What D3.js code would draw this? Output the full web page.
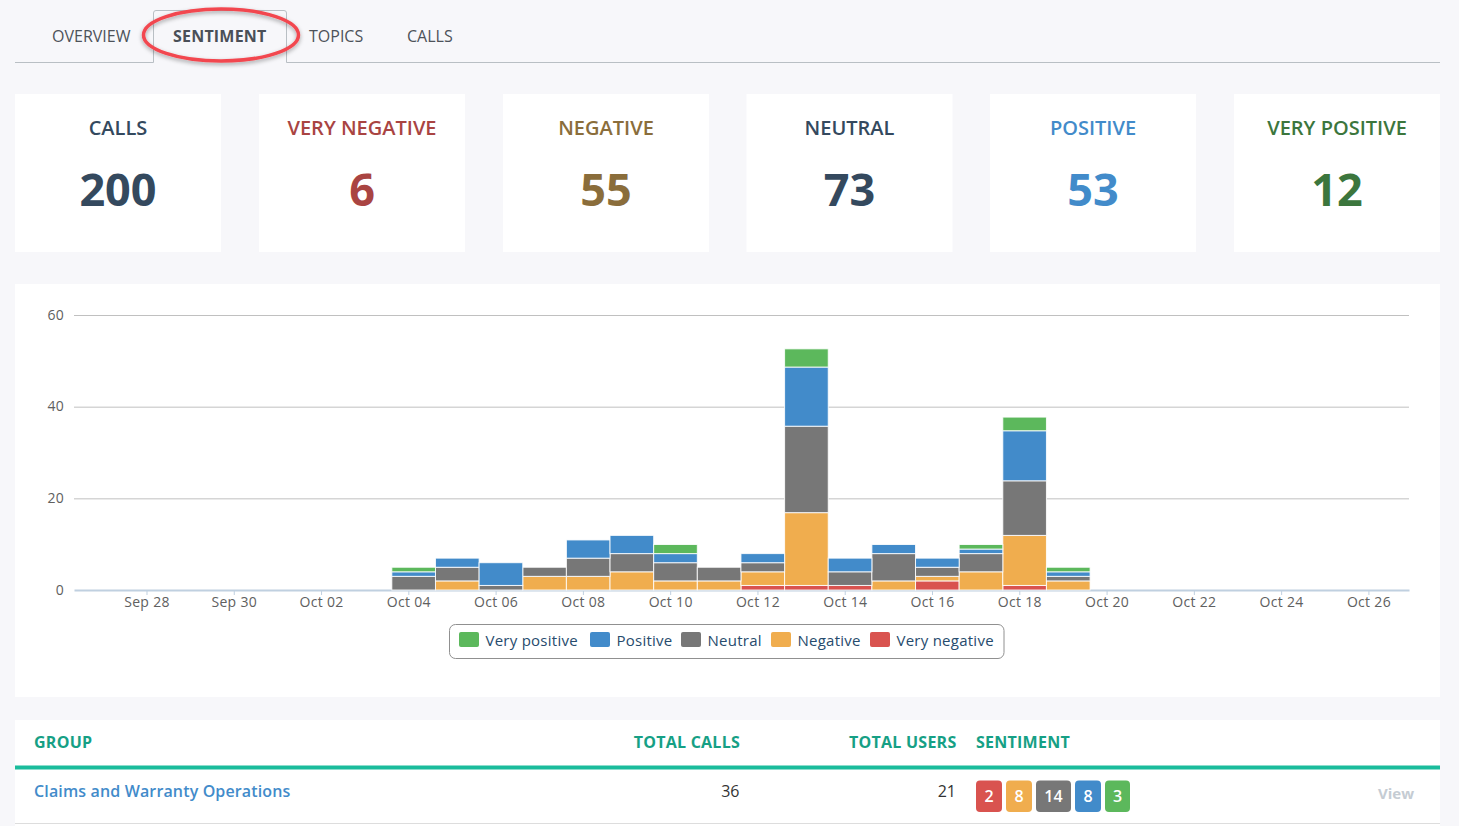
<!DOCTYPE html>
<html>
<head>
<meta charset="utf-8">
<title>Sentiment</title>
<script src="https://cdnjs.cloudflare.com/ajax/libs/d3/7.8.5/d3.min.js"></script>
<style>
  html, body { margin: 0; padding: 0; background: #f7f7fa; overflow: hidden; }
  svg { display: block; font-family: "Open Sans", sans-serif; }
</style>
</head>
<body>
<div id="page"></div>
<script>
// -----------------------------
// DATA
// -----------------------------
const TABS = ["OVERVIEW", "SENTIMENT", "TOPICS", "CALLS"];
const CARD_LABELS = ["CALLS", "VERY NEGATIVE", "NEGATIVE", "NEUTRAL", "POSITIVE", "VERY POSITIVE"];
const CARD_VALUES = [200, 6, 55, 73, 53, 12];

const DAY_LABELS = ["Oct 04","Oct 05","Oct 06","Oct 07","Oct 08","Oct 09","Oct 10","Oct 11",
                    "Oct 12","Oct 13","Oct 14","Oct 15","Oct 16","Oct 17","Oct 18","Oct 19"];
const TICK_LABELS = ["Sep 28","Sep 30","Oct 02","Oct 04","Oct 06","Oct 08","Oct 10","Oct 12",
                     "Oct 14","Oct 16","Oct 18","Oct 20","Oct 22","Oct 24","Oct 26"];
const Y_TICKS = [0, 20, 40, 60];

// stack order: bottom to top
const VERY_NEGATIVE = [0,0,0,0,0,0,0,0,1,1,1,0,2,0,1,0];
const NEGATIVE      = [0,2,0,3,3,4,2,2,3,16,0,2,1,4,11,2];
const NEUTRAL       = [3,3,1,2,4,4,4,3,2,19,3,6,2,4,12,1];
const POSITIVE      = [1,2,5,0,4,4,2,0,2,13,3,2,2,1,11,1];
const VERY_POSITIVE = [1,0,0,0,0,0,2,0,0,4,0,0,0,1,3,1];

const SERIES_NAMES = ["Very negative", "Negative", "Neutral", "Positive", "Very positive"];
const SERIES_VALUES = [VERY_NEGATIVE, NEGATIVE, NEUTRAL, POSITIVE, VERY_POSITIVE];

const TABLE_HEADERS = ["GROUP", "TOTAL CALLS", "TOTAL USERS", "SENTIMENT"];
const ROW_GROUP = "Claims and Warranty Operations";
const ROW_CALLS = 36;
const ROW_USERS = 21;
const ROW_SENTIMENT = [2, 8, 14, 8, 3];

// -----------------------------
// STYLE
// -----------------------------
const COLORS = { "Very negative": "#d9534f", "Negative": "#f0ad4e", "Neutral": "#777777",
                 "Positive": "#428bca", "Very positive": "#5cb85c" };
const CARD_COLORS = ["#34495e", "#a94442", "#8a6d3b", "#34495e", "#428bca", "#3c763d"];
const TEAL = "#1abc9c";
const TEAL_TEXT = "#16a085";

const svg = d3.select("#page").append("svg")
  .attr("width", 1459)
  .attr("height", 826);

const defs = svg.append("defs");
const shadow = defs.append("filter").attr("id", "ring-shadow")
  .attr("x", "-10%").attr("y", "-20%").attr("width", "120%").attr("height", "150%");
shadow.append("feDropShadow")
  .attr("dx", 0).attr("dy", 2).attr("stdDeviation", 2)
  .attr("flood-color", "#000").attr("flood-opacity", 0.35);

// -----------------------------
// TABS
// -----------------------------
const tabs = svg.append("g");
tabs.append("path")
  .attr("d", "M15,62.5H153.5V13a2.5,2.5 0 0 1 2.5,-2.5H284a2.5,2.5 0 0 1 2.5,2.5V62.5H1440")
  .attr("fill", "none")
  .attr("stroke", "#b9bfc4");

const tabX = [52, 173, 309, 407];
tabs.selectAll("text").data(TABS).join("text")
  .attr("x", (d, i) => tabX[i])
  .attr("y", 42)
  .attr("font-size", 16)
  .attr("font-weight", d => d === "SENTIMENT" ? 700 : 400)
  .attr("fill", d => d === "SENTIMENT" ? "#4a4f57" : "#4d5259")
  .style("letter-spacing", d => d === "SENTIMENT" ? "0.2px" : "0")
  .text(d => d);

tabs.append("ellipse")
  .attr("cx", 221).attr("cy", 35)
  .attr("rx", 77.5).attr("ry", 26)
  .attr("fill", "none")
  .attr("stroke", "#f2474f")
  .attr("stroke-width", 3.5)
  .attr("filter", "url(#ring-shadow)");

// -----------------------------
// CARDS
// -----------------------------
const cardX = [15, 259, 503, 746.5, 990, 1234];
const cards = svg.append("g").selectAll("g").data(CARD_LABELS).join("g")
  .attr("transform", (d, i) => `translate(${cardX[i]},94)`);

cards.append("rect")
  .attr("width", 206).attr("height", 158)
  .attr("fill", "#fff");

cards.append("text")
  .attr("x", 103).attr("y", 41)
  .attr("text-anchor", "middle")
  .attr("font-size", 20)
  .attr("font-weight", 600)
  .attr("fill", (d, i) => CARD_COLORS[i])
  .text(d => d);

cards.append("text")
  .attr("x", 103).attr("y", 112)
  .attr("text-anchor", "middle")
  .attr("font-size", 45)
  .attr("font-weight", 700)
  .attr("fill", (d, i) => CARD_COLORS[i])
  .text((d, i) => CARD_VALUES[i]);

// -----------------------------
// CHART
// -----------------------------
svg.append("rect")
  .attr("x", 15).attr("y", 284)
  .attr("width", 1425).attr("height", 413)
  .attr("fill", "#fff");

const chart = svg.append("g");

// one unit is one day, Sep 28 is day 0
function dayOffset(label) {
  const [mon, dd] = label.split(" ");
  return mon === "Sep" ? +dd - 28 : +dd + 2;
}

const xScale = d3.scaleLinear().domain([-1.661, 28.93]).range([74, 1409]);
const yScale = d3.scaleLinear().domain([0, 60]).range([590, 315]);
// bars run a touch shorter than the gridlines in the source
const barScale = d3.scaleLinear().domain([0, 60]).range([590, 317]);

// gridlines
chart.append("g").selectAll("line").data(Y_TICKS.filter(d => d > 0)).join("line")
  .attr("x1", 74).attr("x2", 1409)
  .attr("y1", d => yScale(d) + 0.5).attr("y2", d => yScale(d) + 0.5)
  .attr("stroke", "#c0c0c0");

// y labels
chart.append("g").selectAll("text").data(Y_TICKS).join("text")
  .attr("x", 64)
  .attr("y", d => yScale(d) + 4.5)
  .attr("text-anchor", "end")
  .attr("font-size", 14)
  .attr("fill", "#606060")
  .style("letter-spacing", "0.3px")
  .text(d => d);

// x axis
const xAxis = d3.axisBottom(xScale)
  .tickValues(TICK_LABELS.map(dayOffset))
  .tickFormat((d, i) => TICK_LABELS[i])
  .tickSize(5)
  .tickSizeOuter(0)
  .tickPadding(2);

const axisG = chart.append("g")
  .attr("transform", "translate(0,590)")
  .call(xAxis);
axisG.select(".domain").attr("stroke", "#c0d0e0").attr("stroke-width", 2);
axisG.selectAll(".tick line").attr("stroke", "#c0d0e0");
axisG.selectAll(".tick text")
  .attr("font-family", "Open Sans, sans-serif")
  .attr("font-size", 14)
  .attr("fill", "#606060")
  .style("letter-spacing", "0.3px");

// stacks
const stackRows = DAY_LABELS.map((d, i) => {
  const row = { day: d };
  SERIES_NAMES.forEach((s, j) => { row[s] = SERIES_VALUES[j][i]; });
  return row;
});
const stacked = d3.stack().keys(SERIES_NAMES)(stackRows);

// bars start a little left of their day tick
const BAR_SHIFT = 0.378;

chart.append("g").selectAll("g").data(stacked).join("g")
  .attr("fill", d => COLORS[d.key])
  .selectAll("rect")
  .data(d => d.filter(p => p[1] > p[0]))
  .join("rect")
  .attr("x", d => xScale(dayOffset(d.data.day) - BAR_SHIFT))
  .attr("width", d => xScale(1) - xScale(0))
  .attr("y", d => barScale(d[1]))
  .attr("height", d => barScale(d[0]) - barScale(d[1]))
  .attr("stroke", "#fff")
  .attr("stroke-opacity", 0.85);

// -----------------------------
// LEGEND
// -----------------------------
const legend = svg.append("g");
legend.append("rect")
  .attr("x", 449.5).attr("y", 624.5)
  .attr("width", 554.5).attr("height", 34)
  .attr("rx", 6)
  .attr("fill", "#fff")
  .attr("stroke", "#909090");

const legendX = [459, 590, 681, 771, 870];
SERIES_NAMES.slice().reverse().forEach((name, i) => {
  legend.append("rect")
    .attr("x", legendX[i]).attr("y", 632)
    .attr("width", 20).attr("height", 15)
    .attr("rx", 2)
    .attr("fill", COLORS[name]);
  legend.append("text")
    .attr("x", legendX[i] + 26.5).attr("y", 646)
    .attr("font-size", 15)
    .attr("fill", "#274b6d")
    .style("letter-spacing", "0.25px")
    .text(name);
});

// -----------------------------
// TABLE
// -----------------------------
const table = svg.append("g");
table.append("rect")
  .attr("x", 15).attr("y", 720)
  .attr("width", 1425).attr("height", 106)
  .attr("fill", "#fff");
table.append("rect")
  .attr("x", 15).attr("y", 765.5)
  .attr("width", 1425).attr("height", 4)
  .attr("fill", TEAL);
table.append("rect")
  .attr("x", 15).attr("y", 823)
  .attr("width", 1425).attr("height", 1)
  .attr("fill", "#dddddd");

const headerX = [34, 740, 956.5, 976];
const headerAnchor = ["start", "end", "end", "start"];
table.selectAll("text.head").data(TABLE_HEADERS).join("text")
  .attr("class", "head")
  .attr("x", (d, i) => headerX[i])
  .attr("y", 748)
  .attr("text-anchor", (d, i) => headerAnchor[i])
  .attr("font-size", 16)
  .attr("font-weight", 700)
  .attr("fill", TEAL_TEXT)
  .style("letter-spacing", "0.25px")
  .text(d => d);

table.append("text")
  .attr("x", 34).attr("y", 797)
  .attr("font-size", 16)
  .attr("font-weight", 600)
  .attr("fill", "#428bca")
  .style("letter-spacing", "0.14px")
  .text(ROW_GROUP);

table.append("text")
  .attr("x", 739.5).attr("y", 797)
  .attr("text-anchor", "end")
  .attr("font-size", 16)
  .attr("fill", "#333")
  .text(ROW_CALLS);

table.append("text")
  .attr("x", 956).attr("y", 797)
  .attr("text-anchor", "end")
  .attr("font-size", 16)
  .attr("fill", "#333")
  .text(ROW_USERS);

const badgeX = [976, 1006, 1036, 1075, 1105];
const badgeW = [26, 26, 35, 26, 25];
const badges = table.append("g").selectAll("g").data(ROW_SENTIMENT).join("g")
  .attr("transform", (d, i) => `translate(${badgeX[i]},780.5)`);

badges.append("rect")
  .attr("width", (d, i) => badgeW[i])
  .attr("height", 31.5)
  .attr("rx", 4)
  .attr("fill", (d, i) => COLORS[SERIES_NAMES[i]]);

badges.append("text")
  .attr("x", (d, i) => badgeW[i] / 2)
  .attr("y", 21)
  .attr("text-anchor", "middle")
  .attr("font-size", 16)
  .attr("font-weight", 600)
  .attr("fill", "#fff")
  .text(d => d);

table.append("text")
  .attr("x", 1414).attr("y", 799)
  .attr("text-anchor", "end")
  .attr("font-size", 15)
  .attr("font-weight", 700)
  .attr("fill", "#c5ccd3")
  .text("View");
</script>
</body>
</html>
